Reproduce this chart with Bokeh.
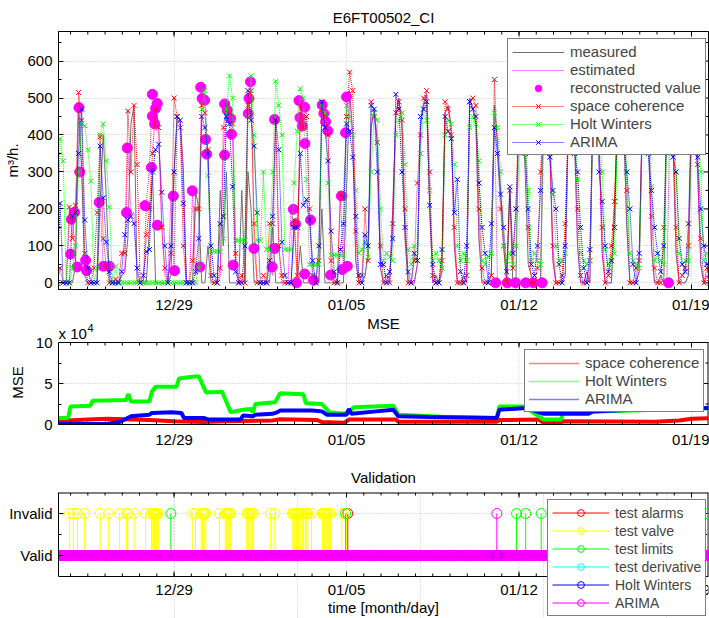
from bokeh.plotting import figure
from bokeh.layouts import column
from bokeh.models import FixedTicker, Legend, LegendItem
from bokeh.core.properties import value
from bokeh.embed import file_html
from bokeh.resources import INLINE

FONT = "Liberation Sans"

# ---------------- axis / time data ----------------
tick_days = [0, 7, 14, 21]                  # days after 12/29
tick_labels = ["12/29", "01/05", "01/12", "01/19"]
x_lo, x_hi = -4.69, 21.69
first_day = -5                               # 12/24 00:00
slots_per_day = 8                            # 3-hour samples

# ---------------- top panel: flow series (m3/h), one row per day, 3-hourly ----------------
measured_rows = [
    [0, 0, 0, 0, 0, 0, 0, 0], [45, 480, 310, 20, 0, 0, 0, 0], [220, 400, 230, 0, 0, 0, 0, 20],
    [30, 120, 430, 480, 0, 0, 0, 0], [150, 300, 0, 0, 0, 0, 0, 20], [300, 450, 440, 310, 0, 0, 0, 250],
    [200, 0, 0, 100, 0, 0, 0, 250], [100, 300, 0, 0, 0, 0, 250, 0], [300, 200, 0, 0, 0, 0, 0, 0],
    [150, 0, 0, 0, 0, 0, 0, 0], [0, 100, 0, 0, 0, 0, 0, 0], [200, 0, 0, 0, 0, 0, 0, 0],
    [250, 520, 400, 60, 0, 0, 20, 80], [420, 470, 380, 40, 0, 0, 0, 200], [450, 500, 420, 120, 0, 0, 0, 50],
    [430, 480, 510, 200, 0, 20, 0, 30], [460, 480, 420, 100, 0, 0, 20, 0], [500, 470, 430, 120, 0, 0, 0, 20],
    [480, 380, 250, 100, 0, 250, 0, 0], [520, 480, 300, 50, 20, 0, 0, 0], [480, 450, 380, 60, 0, 0, 0, 20],
    [440, 490, 400, 100, 0, 0, 30, 0], [470, 500, 380, 80, 0, 0, 0, 200], [450, 470, 420, 150, 0, 0, 0, 30],
    [430, 460, 400, 100, 0, 0, 20, 0], [450, 450, 380, 80, 0, 0, 0, 20], [470, 440, 300, 50, 0, 20, 0, 0],
]
estimated_rows = [
    [0, 0, 0, 0, 0, 0, 170, 190], [45, 474, 300, 60, 33, 0, 0, 0], [218, 45, 45, 20, 0, 0, 0, 20],
    [30, 365, 190, 190, 20, 0, 0, 209], [312, 510, 472, 430, 156, 20, 0, 235], [33, 450, 440, 300, 0, 0, 249, 20],
    [43, 529, 494, 348, 20, 0, 0, 20], [346, 484, 445, 402, 48, 0, 0, 0], [499, 544, 93, 0, 0, 0, 0, 43],
    [20, 442, 93, 0, 0, 0, 199, 159], [0, 493, 424, 475, 170, 7, 0, 0], [481, 436, 411, 21, 0, 0, 235, 36],
    [503, 520, 400, 60, 0, 0, 20, 80], [420, 470, 380, 40, 0, 0, 0, 200], [450, 500, 420, 120, 0, 0, 0, 50],
    [430, 480, 510, 200, 0, 20, 0, 30], [460, 480, 420, 100, 0, 0, 20, 0], [500, 470, 430, 120, 0, 0, 0, 20],
    [480, 0, 0, 0, 0, 0, 0, 0], [0, 0, 0, 0, 0, 0, 0, 0], [480, 450, 380, 60, 0, 0, 0, 20],
    [440, 490, 400, 100, 0, 0, 30, 0], [470, 500, 380, 80, 0, 0, 0, 200], [450, 470, 420, 150, 0, 0, 0, 30],
    [430, 460, 400, 100, 0, 0, 20, 0], [0, 450, 380, 80, 0, 0, 0, 20], [470, 440, 300, 50, 0, 20, 0, 0],
]
space_coherence_rows = [
    [0, 0, 0, 40, 0, 0, 205, 120], [210, 515, 440, 80, 0, 0, 40, 190], [395, 120, 45, 0, 0, 10, 0, 80],
    [80, 465, 300, 480, 320, 0, 0, 130], [200, 350, 470, 420, 150, 40, 0, 80], [500, 450, 420, 100, 0, 0, 60, 200],
    [200, 480, 460, 360, 20, 0, 0, 40], [420, 480, 460, 430, 80, 0, 20, 0], [480, 520, 160, 0, 0, 20, 0, 160],
    [160, 440, 100, 20, 0, 0, 0, 170], [20, 480, 420, 450, 200, 20, 0, 60], [470, 450, 400, 60, 0, 0, 240, 230],
    [450, 570, 520, 140, 0, 20, 200, 60], [490, 450, 380, 100, 0, 20, 0, 160], [460, 490, 440, 200, 0, 0, 60, 270],
    [400, 500, 520, 300, 20, 0, 0, 60], [490, 470, 400, 150, 0, 0, 0, 20], [490, 500, 480, 200, 40, 0, 0, 20],
    [550, 350, 200, 100, 0, 250, 40, 200], [500, 480, 400, 150, 0, 0, 40, 300], [470, 500, 350, 100, 0, 0, 20, 160],
    [450, 480, 420, 200, 20, 0, 0, 60], [460, 510, 360, 150, 0, 20, 100, 220], [480, 490, 440, 250, 0, 0, 40, 60],
    [440, 480, 420, 180, 40, 0, 0, 150], [460, 480, 420, 150, 0, 20, 40, 100], [480, 460, 320, 120, 0, 40, 0, 0],
]
holt_winters_rows = [
    [0, 0, 0, 390, 330, 0, 0, 40], [100, 300, 430, 425, 360, 275, 0, 40], [400, 430, 330, 205, 0, 45, 0, 0],
    [0, 0, 0, 0, 0, 0, 0, 0], [0, 0, 0, 0, 0, 0, 0, 0], [0, 0, 0, 0, 0, 0, 0, 0],
    [40, 470, 520, 290, 85, 85, 85, 85], [120, 470, 560, 500, 115, 115, 115, 115], [450, 560, 400, 115, 115, 300, 90, 90],
    [300, 545, 480, 400, 90, 90, 90, 270], [410, 525, 500, 280, 50, 50, 50, 50], [480, 460, 270, 75, 75, 75, 75, 75],
    [480, 450, 400, 250, 80, 90, 110, 70], [300, 460, 440, 200, 60, 80, 70, 60], [400, 440, 460, 320, 90, 50, 100, 60],
    [350, 470, 440, 250, 60, 80, 60, 40], [400, 440, 430, 320, 100, 60, 80, 60], [420, 450, 430, 330, 60, 50, 70, 80],
    [460, 420, 300, 100, 60, 80, 50, 100], [350, 450, 420, 250, 60, 80, 60, 50], [420, 460, 400, 240, 100, 60, 60, 80],
    [380, 470, 440, 280, 80, 60, 50, 60], [430, 480, 420, 300, 90, 50, 70, 80], [400, 450, 470, 300, 80, 60, 50, 40],
    [380, 440, 450, 260, 60, 80, 60, 50], [420, 520, 450, 300, 80, 50, 60, 60], [380, 470, 420, 300, 60, 80, 50, 40],
]
arima_rows = [
    [0, 0, 0, 215, 0, 0, 0, 180], [190, 350, 470, 170, 40, 0, 0, 0], [370, 230, 110, 30, 0, 0, 0, 30],
    [130, 170, 180, 160, 40, 0, 20, 85], [90, 300, 360, 375, 245, 100, 0, 100], [300, 450, 440, 215, 0, 0, 0, 30],
    [120, 450, 420, 350, 100, 20, 0, 160], [180, 450, 430, 260, 30, 0, 0, 100], [520, 440, 370, 190, 0, 0, 0, 60],
    [180, 440, 360, 110, 20, 0, 0, 150], [150, 350, 210, 225, 170, 60, 0, 100], [490, 420, 330, 140, 30, 0, 90, 160],
    [430, 410, 340, 180, 20, 0, 130, 100], [480, 470, 300, 50, 50, 0, 30, 120], [510, 470, 300, 150, 30, 0, 80, 60],
    [450, 470, 490, 210, 50, 0, 0, 90], [450, 410, 390, 190, 280, 30, 0, 100], [490, 470, 450, 270, 150, 80, 0, 160],
    [420, 350, 240, 150, 30, 260, 80, 200], [450, 500, 350, 200, 50, 20, 100, 250], [460, 430, 340, 250, 200, 50, 0, 100],
    [430, 480, 350, 300, 150, 40, 0, 90], [480, 470, 300, 220, 100, 30, 60, 150], [460, 430, 380, 300, 200, 50, 0, 80],
    [440, 450, 350, 250, 150, 80, 30, 100], [450, 470, 340, 300, 120, 50, 30, 160], [450, 430, 340, 200, 100, 50, 0, 0],
]
recon_days = [-4.20, -4.17, -4.04, -3.93, -3.86, -3.83, -3.59, -3.55, -3.04, -2.87, -2.62, -1.93, -1.90, -1.18,
              -0.92, -0.88, -0.88, -0.79, -0.75, -0.68, -0.68, -0.03, 0.02, 0.74, 1.05, 1.08, 1.14, 1.24, 1.28,
              1.32, 2.05, 2.05, 2.16, 2.29, 2.33, 2.40, 3.01, 3.04, 3.10, 3.24, 3.98, 4.08, 4.08, 4.84, 4.93,
              4.97, 5.07, 5.11, 5.20, 5.30, 5.30, 5.31, 5.54, 5.66, 6.01, 6.08, 6.15, 6.24, 6.35, 6.79, 6.83,
              6.96, 7.00, 7.03, 13.05, 13.52, 13.86, 14.27, 14.58, 14.94, 20.07]
recon_vals = [78, 172, 191, 43, 474, 300, 61, 33, 218, 45, 45, 190, 365, 209,
              312, 510, 451, 430, 472, 485, 156, 235, 33, 249, 43, 529, 499, 494, 388,
              348, 346, 484, 467, 445, 402, 48, 458, 499, 544, 93, 43, 442, 93, 199, 159,
              0, 493, 447, 424, 475, 24, 377, 170, 7, 481, 458, 436, 411, 21, 235, 36,
              406, 503, 45, 0, 0, 0, 0, 0, 0, 0]

# ---------------- MSE panel (x 1e4) ----------------
mse_sc_days = [-4.75, -4.3, -3.5, -2.7, -1.0, 0.0, 1.2, 2.0, 4.0, 4.3, 5.8, 6.0, 6.9, 7.1, 9.0, 9.1, 13.1, 13.2,
               14.8, 15.0, 15.7, 15.8, 19.5, 20.5, 21.0, 21.75]
mse_sc = [0.3, 0.5, 0.6, 0.7, 0.55, 0.4, 0.3, 0.4, 0.5, 0.65, 0.55, 0.3, 0.2, 0.6, 0.6, 0.35, 0.35, 0.55,
          0.6, 0.2, 0.25, 0.4, 0.35, 0.5, 0.7, 0.75]
mse_hw_days = [-4.75, -4.3, -4.2, -3.4, -3.3, -1.95, -1.85, -1.75, -1.0, -0.9, -0.75, 0.1, 0.2, 0.65, 1.0, 1.3,
               1.95, 2.3, 2.8, 3.1, 3.2, 3.3, 4.1, 4.3, 5.25, 5.35, 6.0, 6.3, 6.9, 7.1, 7.3, 8.9, 9.1, 10.4,
               11.0, 13.1, 13.2, 14.2, 15.0, 15.7, 15.8, 18.6, 21.75]
mse_hw = [0.8, 0.8, 2.2, 2.3, 2.9, 3.0, 3.7, 2.8, 2.8, 4.0, 4.6, 4.6, 5.6, 5.8, 5.9, 3.9,
          4.0, 1.5, 1.8, 1.9, 1.5, 2.5, 2.7, 3.8, 3.7, 2.6, 2.5, 1.5, 1.3, 1.6, 2.1, 2.3, 1.2, 1.0,
          0.9, 0.8, 2.2, 2.2, 0.6, 0.6, 1.5, 1.7, 2.0]
mse_ar_days = [-4.75, -2.7, -2.2, -1.75, -1.0, -0.9, -0.1, 0.3, 0.4, 1.2, 1.4, 2.7, 2.8, 3.2, 3.3, 4.0, 4.2, 4.3,
               5.6, 6.0, 6.2, 7.0, 7.1, 7.2, 8.2, 8.9, 9.1, 10.4, 13.1, 13.2, 14.3, 15.0, 16.8, 17.0, 18.6, 21.75]
mse_ar = [0.05, 0.1, 0.3, 1.0, 1.2, 1.4, 1.5, 1.4, 0.8, 0.8, 0.6, 0.6, 1.1, 1.0, 1.2, 1.3, 1.5, 1.7,
          1.7, 1.6, 1.2, 1.2, 1.9, 1.3, 1.6, 1.8, 1.0, 0.9, 0.8, 1.8, 2.0, 1.3, 1.3, 1.6, 1.8, 2.0]

# ---------------- validation panel: times flagged invalid ----------------
alarm_days = [7.05]
valve_days = [-4.24, -4.09, -3.92, -3.63, -3.00, -2.67, -2.21, -1.93, -1.88, -1.62, -1.16, -0.92, -0.87, -0.83,
              -0.79, -0.75, -0.72, -0.68, -0.64, 0.74, 0.87, 1.10, 1.15, 1.20, 1.25, 1.29, 1.84, 2.08, 2.12,
              2.15, 2.19, 2.23, 2.27, 2.30, 2.95, 3.00, 3.04, 3.08, 3.13, 3.18, 3.22, 3.92, 4.09, 4.79, 4.84,
              4.88, 4.93, 4.97, 5.02, 5.06, 5.10, 5.15, 5.21, 5.26, 5.34, 5.39, 5.43, 5.58, 6.02, 6.06, 6.10,
              6.14, 6.17, 6.21, 6.26, 6.31, 6.35, 6.81, 7.00]
limits_days = [-0.13, 6.96, 13.90, 14.27, 14.90, 21.65]
derivative_days = []
hw_invalid_days = []
arima_invalid_days = [13.10]


def flat(rows):
    return [v for r in rows for v in r]


meas = flat(measured_rows)
est = flat(estimated_rows)
sc = flat(space_coherence_rows)
hw = flat(holt_winters_rows)
ar = flat(arima_rows)
t = [first_day + i / slots_per_day for i in range(len(est))]
hourly = [first_day + h / 24 for h in range(27 * 24)]
minor_days = [round(0.7 * k, 2) for k in range(-7, 32) if x_lo < 0.7 * k < x_hi]


def validation_series(invalid_days):
    """Hourly 0 (valid) stems plus 1 (invalid) stems at the flagged times."""
    xs = [d for d in hourly if all(abs(d - b) > 0.03 for b in invalid_days)]
    return xs + list(invalid_days), [0] * len(xs) + [1] * len(invalid_days)


FW = 650
PX_DAY = FW / (x_hi - x_lo)


def style_axes(p, yticks, yminor, ylabel=None, overrides=None, label_standoff=4):
    p.background_fill_color = "white"
    p.border_fill_color = "white"
    p.yaxis.ticker = FixedTicker(ticks=yticks, minor_ticks=yminor)
    if overrides:
        p.yaxis.major_label_overrides = overrides
    axes = list(p.yaxis)
    if p.xaxis:
        p.xaxis.ticker = FixedTicker(ticks=tick_days, minor_ticks=minor_days)
        p.xaxis.major_label_overrides = {d: l for d, l in zip(tick_days, tick_labels)}
        axes += list(p.xaxis)
    for ax in axes:
        ax.major_label_text_font = FONT
        ax.major_label_text_font_size = "15px"
        ax.major_label_text_color = "black"
        ax.major_tick_in = 5
        ax.major_tick_out = 0
        ax.minor_tick_in = 3
        ax.minor_tick_out = 0
        ax.axis_line_color = "black"
        ax.major_tick_line_color = "black"
        ax.minor_tick_line_color = "black"
        ax.major_label_standoff = 6
        ax.axis_label_text_font = FONT
        ax.axis_label_text_font_size = "15px"
        ax.axis_label_text_font_style = "normal"
        ax.axis_label_text_color = "black"
    if ylabel:
        p.yaxis.axis_label = ylabel
        p.yaxis.axis_label_standoff = label_standoff
    for g in list(p.xgrid) + list(p.ygrid):
        g.grid_line_color = "#c4c4c4"
        g.grid_line_dash = "1 2"
    p.title.text_font = FONT
    p.title.text_font_size = "15px"
    p.title.text_font_style = "normal"
    p.title.align = "center"
    p.title.text_color = "black"


def edge_ticks(p, y_lo, y_hi, px_y, yticks, yminor, top=True, bottom=False):
    """Inward tick marks on the top / bottom / right edges of the box (MATLAB 'box on')."""
    for ticks, ln in ((tick_days, 5), (minor_days, 3)):
        n = len(ticks)
        if top:
            p.segment(x0=ticks, y0=[y_hi] * n, x1=ticks, y1=[y_hi - ln / px_y] * n, line_color="black")
        if bottom:
            p.segment(x0=ticks, y0=[y_lo] * n, x1=ticks, y1=[y_lo + ln / px_y] * n, line_color="black")
    for ticks, ln in ((yticks, 5), (yminor, 3)):
        n = len(ticks)
        p.segment(x0=[x_hi] * n, y0=ticks, x1=[x_hi - ln / PX_DAY] * n, y1=ticks, line_color="black")


def legend_style(lg, size="15px"):
    lg.label_text_font = FONT
    lg.label_text_font_size = size
    lg.border_line_color = "black"
    lg.border_line_width = 1
    lg.background_fill_alpha = 1
    lg.padding = 4
    lg.margin = 0
    lg.spacing = 1
    lg.label_standoff = 6
    lg.glyph_height = 16
    lg.label_height = 16


# ================= panel 1 =================
y1_lo, y1_hi, FH1 = -18, 680, 258
y1_ticks = [0, 100, 200, 300, 400, 500, 600]
y1_minor = [50, 150, 250, 350, 450, 550, 650]
p1 = figure(width=709, height=315, frame_width=FW, frame_height=FH1, min_border_left=58, min_border_right=1,
            min_border_top=31, min_border_bottom=26, x_range=(x_lo, x_hi), y_range=(y1_lo, y1_hi),
            output_backend="svg", toolbar_location=None, title="E6FT00502_CI")
style_axes(p1, y1_ticks, y1_minor, "m\u00b3/h.", label_standoff=3)
p1.outline_line_color = "black"
p1.title.standoff = 12
edge_ticks(p1, y1_lo, y1_hi, FH1 / (y1_hi - y1_lo), y1_ticks, y1_minor)

r_meas = p1.line(t, meas, line_color="#707070", line_width=1)
r_est = p1.line(t, est, line_color="magenta", line_width=1, line_dash="1 1")
r_rec = p1.scatter(recon_days, recon_vals, marker="circle", size=10, fill_color="magenta", line_color="magenta")
r_sc_l = p1.line(t, sc, line_color="red", line_width=1, line_dash="1 1")
r_sc_p = p1.scatter(t, sc, marker="x", size=7, line_color="red")
r_hw_l = p1.line(t, hw, line_color="#00ff00", line_width=1, line_dash="1 1")
r_hw_p = p1.scatter(t, hw, marker="x", size=7, line_color="#00ff00")
r_ar_l = p1.line(t, ar, line_color="blue", line_width=1, line_dash="1 1")
r_ar_p = p1.scatter(t, ar, marker="x", size=7, line_color="blue")

lg1 = Legend(items=[
    LegendItem(label="measured", renderers=[r_meas]),
    LegendItem(label="estimated", renderers=[r_est]),
    LegendItem(label="reconstructed value", renderers=[r_rec]),
    LegendItem(label="space coherence", renderers=[r_sc_l, r_sc_p]),
    LegendItem(label="Holt Winters", renderers=[r_hw_l, r_hw_p]),
    LegendItem(label="ARIMA", renderers=[r_ar_l, r_ar_p]),
], location=(449, 134))
legend_style(lg1)
lg1.glyph_width = 52
p1.add_layout(lg1)

# ================= panel 2 (frame extends up to hold the title) =================
FH2, BOX2 = 109, 82            # frame height / height of the 0..10 box (px)
y2_hi = 10 * FH2 / BOX2
px2 = BOX2 / 10
y2_ticks, y2_minor = [0, 5, 10], [2.5, 7.5]
p2 = figure(width=709, height=136, frame_width=FW, frame_height=FH2, min_border_left=58, min_border_right=1,
            min_border_top=0, min_border_bottom=27, x_range=(x_lo, x_hi), y_range=(0, y2_hi),
            output_backend="svg", toolbar_location=None)
# trailing no-break spaces keep the rotated label centred on the 0..10 box rather than the taller frame
style_axes(p2, y2_ticks, y2_minor, "MSE" + "\u00a0" * 6, label_standoff=7)
p2.outline_line_color = None
p2.yaxis.bounds = (0, 10)
p2.xgrid.visible = False
p2.segment(x0=tick_days, y0=[0] * 4, x1=tick_days, y1=[10] * 4, line_color="#c4c4c4", line_dash="1 2")
p2.segment(x0=[x_lo], y0=[10], x1=[x_hi], y1=[10], line_color="black", line_width=1)
p2.segment(x0=[x_hi], y0=[0], x1=[x_hi], y1=[10], line_color="black", line_width=2)
edge_ticks(p2, 0, 10, px2, y2_ticks, y2_minor)

items2 = []
for name, days, vals, col in [("space coherence", mse_sc_days, mse_sc, "red"),
                              ("Holt Winters", mse_hw_days, mse_hw, "#00ff00"),
                              ("ARIMA", mse_ar_days, mse_ar, "blue")]:
    p2.line(days, vals, line_color=col, line_width=4)
    rl = p2.line(days, vals, line_color=col, line_width=1.5, line_dash="1 1")
    items2.append(LegendItem(label=name, renderers=[rl]))
lg2 = Legend(items=items2, location=(466, 12))
legend_style(lg2)
lg2.glyph_width = 50
p2.add_layout(lg2)
p2.text(x=[(x_lo + x_hi) / 2], y=[10 + 19 / px2], text=["MSE"], text_font=value(FONT), text_font_size="15px",
        text_align="center", text_baseline="middle", text_color="black")
p2.text(x=[x_lo], y=[10 + 9 / px2], text=["x 10"], text_font=value(FONT), text_font_size="15px",
        text_align="left", text_baseline="alphabetic", text_color="black")
p2.text(x=[x_lo + 29 / PX_DAY], y=[10 + 15 / px2], text=["4"], text_font=value(FONT), text_font_size="11px",
        text_align="left", text_baseline="alphabetic", text_color="black")

# ================= panel 3 (frame extends down to hold tick labels, x label and legend) =================
FH3 = 126
y3_lo, y3_hi = -1.5, 1.5
px3 = FH3 / (y3_hi - y3_lo)
box3_lo = -0.5
p3 = figure(width=709, height=167, frame_width=FW, frame_height=FH3, min_border_left=58, min_border_right=1,
            min_border_top=41, min_border_bottom=0, x_range=(x_lo, x_hi), y_range=(y3_lo, y3_hi),
            x_axis_location=None, output_backend="svg", toolbar_location=None, title="Validation")
style_axes(p3, [0, 1], [0.5], overrides={0: "Valid", 1: "Invalid"})
p3.outline_line_color = None
p3.title.standoff = 13
p3.yaxis.bounds = (box3_lo, y3_hi)
p3.segment(x0=tick_days, y0=[box3_lo] * 4, x1=tick_days, y1=[y3_hi] * 4, line_color="#c4c4c4", line_dash="1 2")
p3.segment(x0=[x_lo], y0=[box3_lo], x1=[x_hi], y1=[box3_lo], line_color="black", line_width=1)
p3.segment(x0=[x_lo], y0=[y3_hi], x1=[x_hi], y1=[y3_hi], line_color="black", line_width=2)
p3.segment(x0=[x_hi], y0=[box3_lo], x1=[x_hi], y1=[y3_hi], line_color="black", line_width=2)
edge_ticks(p3, box3_lo, y3_hi, px3, [0, 1], [0.5], top=True, bottom=True)
p3.text(x=tick_days, y=[box3_lo - 13 / px3] * 4, text=tick_labels, text_font=value(FONT), text_font_size="15px",
        text_align="center", text_baseline="middle", text_color="black")
p3.text(x=[(x_lo + x_hi) / 2], y=[box3_lo - 31 / px3], text=["time [month/day]"], text_font=value(FONT),
        text_font_size="15px", text_align="center", text_baseline="middle", text_color="black")

items3 = []
for name, days, col in [("test alarms", alarm_days, "red"),
                        ("test valve", valve_days, "#ffff00"),
                        ("test limits", limits_days, "#00ff00"),
                        ("test derivative", derivative_days, "cyan"),
                        ("Holt Winters", hw_invalid_days, "blue"),
                        ("ARIMA", arima_invalid_days, "magenta")]:
    xs, ys = validation_series(days)
    rs = p3.segment(x0=xs, y0=[0] * len(xs), x1=xs, y1=ys, line_color=col, line_width=1)
    rc = p3.scatter(xs, ys, marker="circle", size=10, fill_color=None, line_color=col)
    items3.append(LegendItem(label=name, renderers=[rs, rc]))
lg3 = Legend(items=items3, location=(489, 2))
legend_style(lg3, "14px")
lg3.glyph_width = 57
lg3.glyph_height = 17
lg3.label_height = 17
p3.add_layout(lg3)

layout = column(p1, p2, p3, spacing=0)
open("out.html", "w").write(file_html(layout, INLINE))
